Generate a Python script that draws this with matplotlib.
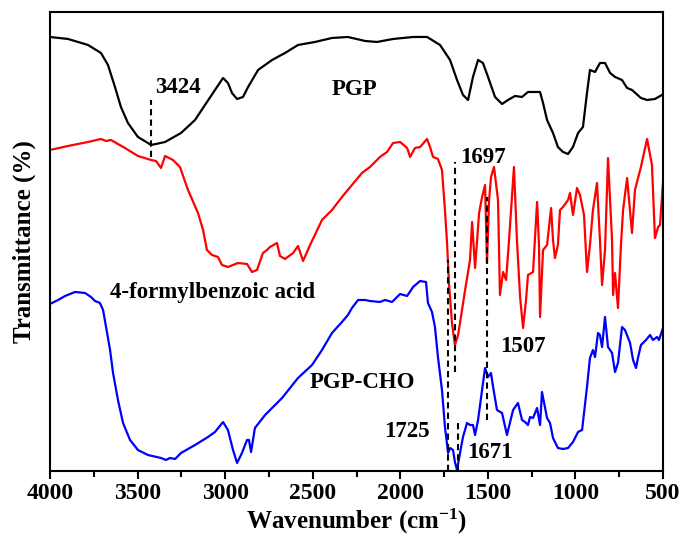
import matplotlib
matplotlib.use("Agg")
import matplotlib.pyplot as plt

plt.rcParams["font.family"] = ["Liberation Serif", "DejaVu Serif"]
plt.rcParams["font.weight"] = "bold"
plt.rcParams["mathtext.fontset"] = "custom"
plt.rcParams["mathtext.rm"] = "Liberation Serif:bold"
plt.rcParams["mathtext.bf"] = "Liberation Serif:bold"
plt.rcParams["mathtext.it"] = "Liberation Serif:bold"

# ИК-спектры (пропускание, усл. ед.)
pgp_wn = [4000, 3897, 3783, 3709, 3669, 3629, 3595, 3555, 3498, 3441, 3424, 3395,
          3343, 3252, 3172, 3115, 3058, 3012, 2984, 2961, 2932, 2898, 2869, 2812,
          2732, 2658, 2584, 2487, 2390, 2299, 2201, 2133, 2041, 1927, 1847, 1773,
          1716, 1676, 1642, 1613, 1585, 1556, 1528, 1499, 1459, 1419, 1385, 1345,
          1305, 1271, 1202, 1185, 1162, 1128, 1100, 1071, 1042, 1014, 985, 957,
          934, 917, 888, 860, 831, 802, 774, 734, 705, 677, 626, 591, 546, 506, 500]
pgp_t = [463, 461, 455, 447, 435, 413, 393, 377, 363, 357, 355, 356,
         358, 367, 380, 395, 410, 422, 417, 407, 401, 403, 413, 430,
         440, 447, 455, 458, 462, 463, 459, 458, 461, 463, 463, 455,
         440, 420, 405, 400, 423, 440, 437, 423, 403, 396, 400, 404,
         403, 408, 408, 397, 380, 367, 353, 348, 346, 353, 367, 373,
         407, 430, 428, 437, 437, 427, 423, 420, 412, 410, 402, 400, 401, 405, 406]

acid_wn = [4000, 3897, 3783, 3709, 3680, 3652, 3572, 3498, 3423, 3395, 3366, 3343,
           3298, 3258, 3212, 3155, 3126, 3104, 3075, 3041, 3018, 2984, 2927, 2875,
           2847, 2818, 2784, 2761, 2744, 2704, 2687, 2658, 2612, 2584, 2555, 2515,
           2447, 2390, 2333, 2276, 2219, 2173, 2116, 2076, 2041, 2001, 1961, 1944,
           1916, 1887, 1847, 1830, 1813, 1785, 1762, 1745, 1733, 1722, 1705, 1688,
           1670, 1659, 1630, 1613, 1602, 1590, 1573, 1550, 1533, 1516, 1505, 1493,
           1482, 1465, 1442, 1431, 1413, 1396, 1379, 1351, 1334, 1316, 1299, 1282,
           1271, 1242, 1219, 1208, 1202, 1185, 1162, 1139, 1128, 1117, 1100, 1088,
           1071, 1042, 1031, 1014, 991, 974, 951, 934, 917, 900, 877, 860,
           848, 831, 814, 791, 785, 774, 757, 740, 728, 705, 677, 660,
           626, 591, 563, 546, 528, 517, 500]
acid_t = [350, 354, 358, 361, 359, 360, 352, 344, 340, 339, 332, 344,
          340, 333, 310, 287, 270, 250, 245, 243, 235, 233, 237, 236,
          228, 230, 247, 250, 253, 257, 244, 241, 247, 254, 239, 255,
          280, 290, 303, 315, 327, 333, 343, 348, 357, 358, 352, 343,
          352, 353, 361, 353, 343, 341, 330, 290, 257, 217, 177, 155,
          165, 177, 210, 228, 240, 278, 232, 287, 303, 315, 237, 300,
          323, 333, 300, 205, 228, 220, 260, 333, 260, 203, 172, 200,
          225, 228, 298, 255, 183, 250, 255, 292, 260, 242, 255, 290,
          293, 300, 307, 285, 312, 305, 285, 228, 255, 290, 317, 260,
          215, 250, 342, 260, 205, 227, 192, 255, 290, 322, 267, 310,
          333, 361, 335, 262, 273, 275, 318]

cho_wn = [4000, 3954, 3914, 3857, 3800, 3766, 3743, 3715, 3697, 3680, 3657, 3640,
          3612, 3583, 3543, 3498, 3441, 3366, 3338, 3315, 3286, 3252, 3172, 3098,
          3058, 3012, 2984, 2955, 2932, 2904, 2875, 2864, 2852, 2830, 2772, 2675,
          2584, 2504, 2447, 2390, 2333, 2299, 2276, 2241, 2201, 2173, 2116, 2087,
          2047, 2001, 1961, 1927, 1887, 1853, 1842, 1819, 1802, 1785, 1762, 1745,
          1727, 1716, 1699, 1688, 1676, 1659, 1642, 1619, 1602, 1585, 1573, 1556,
          1533, 1516, 1499, 1482, 1470, 1448, 1419, 1391, 1356, 1328, 1305, 1288,
          1271, 1259, 1242, 1219, 1202, 1191, 1162, 1145, 1128, 1100, 1071, 1042,
          1014, 985, 962, 934, 917, 900, 888, 871, 860, 848, 831, 814,
          791, 774, 757, 734, 717, 688, 671, 654, 643, 626, 597, 574,
          557, 534, 523, 500]
cho_t = [196, 200, 204, 208, 207, 203, 199, 197, 190, 173, 150, 127,
         100, 77, 60, 50, 45, 42, 40, 42, 41, 47, 55, 63,
         68, 78, 70, 50, 37, 47, 60, 60, 48, 72, 85, 102,
         122, 135, 150, 167, 178, 185, 192, 200, 200, 199, 198, 200,
         198, 206, 204, 213, 219, 218, 197, 188, 173, 143, 110, 73,
         47, 52, 50, 38, 30, 47, 63, 77, 75, 75, 65, 80,
         110, 132, 123, 127, 113, 90, 87, 65, 90, 97, 80, 78,
         75, 83, 82, 92, 75, 108, 82, 77, 62, 52, 51, 52,
         58, 68, 70, 113, 142, 150, 143, 167, 165, 153, 183, 153,
         147, 128, 137, 173, 170, 157, 140, 132, 142, 155, 160, 165,
         160, 163, 160, 172]

# отметки пиков: положение линии, низ, верх
mark_wn = [3424, 1685, 1507, 1725, 1671]
mark_lo = [343, 128, 80, 29, 29]
mark_hi = [400, 338, 303, 240, 78]

fig = plt.figure(figsize=(6.84, 5.42), dpi=100)
ax = fig.add_axes([0.0731, 0.1310, 0.8962, 0.8469])

ax.plot(pgp_wn, pgp_t, color="black", lw=1.6, solid_joinstyle="round")
ax.plot(acid_wn, acid_t, color="#FF0000", lw=1.6, solid_joinstyle="round")
ax.plot(cho_wn, cho_t, color="#0000FF", lw=1.6, solid_joinstyle="round")

for w, lo, hi in zip(mark_wn, mark_lo, mark_hi):
    ax.plot([w, w], [lo, hi], color="black", lw=1.5, linestyle=(0, (3, 2)))

fs = 16.5
ax.text(3400, 412, "3424", fontsize=fs, fontweight="bold", va="center")
ax.text(2390, 410, "PGP", fontsize=fs, fontweight="bold", va="center")
ax.text(1659, 342, "1697", fontsize=fs, fontweight="bold", va="center")
ax.text(3657, 207, "4-formylbenzoic acid", fontsize=fs, fontweight="bold", va="center")
ax.text(1431, 153, "1507", fontsize=fs, fontweight="bold", va="center")
ax.text(2515, 117, "PGP-CHO", fontsize=fs, fontweight="bold", va="center")
ax.text(1830, 68, "1725", fontsize=fs, fontweight="bold", va="center", ha="right")
ax.text(1619, 47, "1671", fontsize=fs, fontweight="bold", va="center")

ax.set_xlim(4000, 500)
ax.set_ylim(29, 488)
ax.set_xticks([4000, 3500, 3000, 2500, 2000, 1500, 1000, 500])
ax.set_xticks([3750, 3250, 2750, 2250, 1750, 1250, 750], minor=True)
ax.set_yticks([])
ax.tick_params(axis="x", which="major", direction="out", length=6, width=1.5,
               labelsize=17, pad=3)
ax.tick_params(axis="x", which="minor", direction="out", length=4, width=1.5)
for lab in ax.get_xticklabels():
    lab.set_fontweight("bold")
for sp in ax.spines.values():
    sp.set_linewidth(1.5)

ax.set_xlabel("Wavenumber (cm$^{-1}$)", fontsize=18, fontweight="bold", labelpad=2)
ax.set_ylabel("Transmittance (%)", fontsize=18, fontweight="bold", labelpad=10)

fig.savefig("out.png", dpi=100)
